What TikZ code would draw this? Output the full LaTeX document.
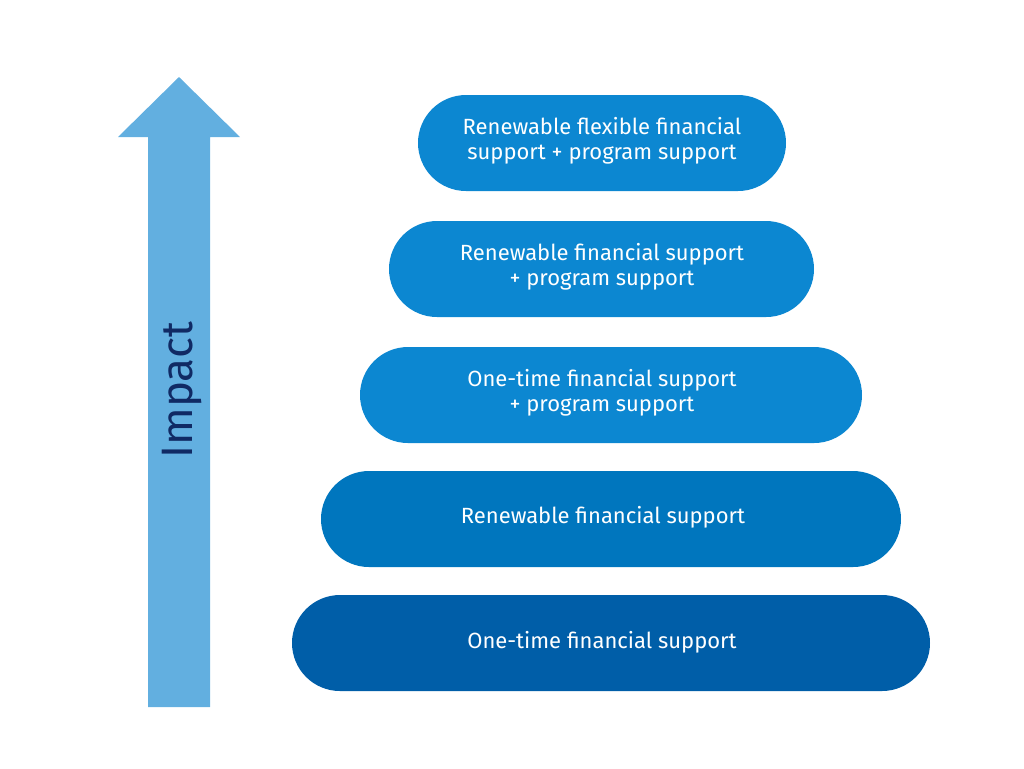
\documentclass[tikz,border=0pt]{standalone}
\usepackage{fontspec}
\setmainfont{Fira Sans}
\usepackage{tikz}
\usetikzlibrary{positioning,shapes.geometric,calc}
\definecolor{arrowblue}{RGB}{98,175,224}
\definecolor{impacttext}{RGB}{16,42,100}
\definecolor{tierlight}{RGB}{12,135,209}
\definecolor{tiermid}{RGB}{0,118,190}
\definecolor{tierdark}{RGB}{0,94,168}

\tikzset{
  tier/.style={rectangle, rounded corners=24pt, minimum height=48pt, inner sep=0pt, draw=none},
  tiertext/.style={text=white, align=center, font=\fontsize{11}{12.5}\selectfont},
}

\begin{document}
\begin{tikzpicture}[x=0.5pt,y=-0.5pt]
\useasboundingbox (0,0) rectangle (1024,768);
% impact arrow
\fill[arrowblue] (148,707) -- (148,137) -- (118,137) -- (179,77) -- (240,137) -- (210,137) -- (210,707) -- cycle;
\node[rotate=90, text=impacttext, font=\fontsize{22}{26}\selectfont] (impact) at (182,390) {Impact};
% tiers, bottom to top
\node[tier, fill=tierdark, minimum width=319pt] (t1) at (611,643) {};
\node[tier, fill=tiermid, minimum width=290pt] (t2) at (611,519) {};
\node[tier, fill=tierlight, minimum width=251pt] (t3) at (611,395) {};
\node[tier, fill=tierlight, minimum width=212.5pt] (t4) at (601.5,269) {};
\node[tier, fill=tierlight, minimum width=184pt] (t5) at (602,143) {};
\node[tiertext] (l1) at (602,642) {One-time financial support};
\node[tiertext] (l2) at (603,517) {Renewable financial support};
\node[tiertext] (l3) at (602,393) {One-time financial support\\+ program support};
\node[tiertext] (l4) at (602,267) {Renewable financial support\\+ program support};
\node[tiertext] (l5) at (602,141) {Renewable flexible financial\\support + program support};
\end{tikzpicture}
\end{document}
